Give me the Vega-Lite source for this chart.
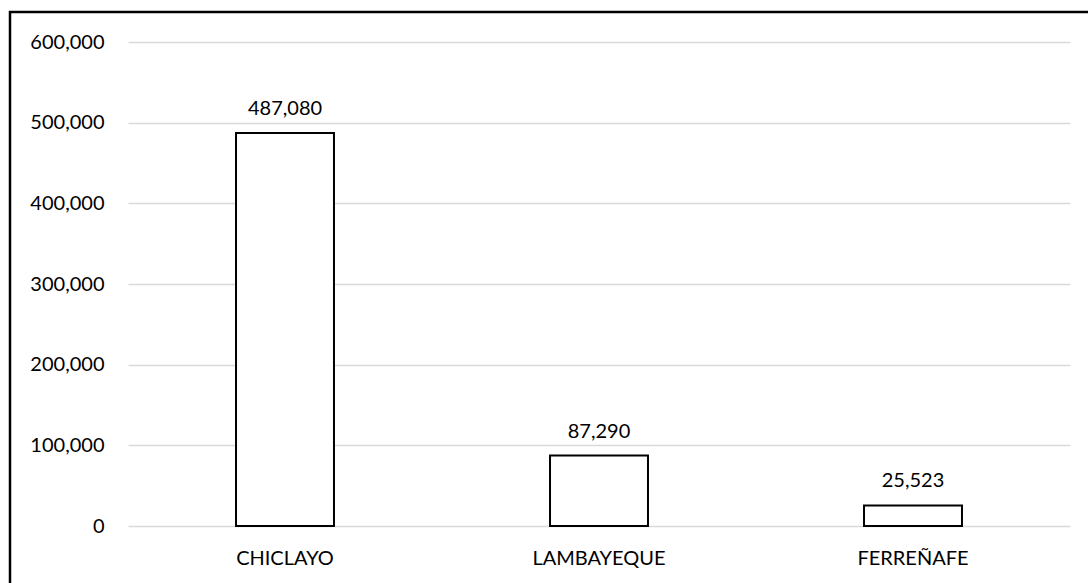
{
  "$schema": "https://vega.github.io/schema/vega-lite/v6.json",
  "width": 1082,
  "height": 574,
  "autosize": {"type": "none"},
  "padding": {"left": 10, "top": 12, "right": 0, "bottom": 0},
  "background": "white",
  "config": {"view": {"stroke": "#000", "strokeWidth": 2.5}, "font": "Lato"},
  "data": {"values": [
    {"provincia": "CHICLAYO", "poblacion": 487080},
    {"provincia": "LAMBAYEQUE", "poblacion": 87290},
    {"provincia": "FERREÑAFE", "poblacion": 25523}
  ]},
  "encoding": {
    "x": {
      "field": "provincia", "type": "nominal", "sort": null,
      "scale": {"range": [118, 1060], "paddingInner": 0.688, "paddingOuter": 0.344},
      "axis": {"title": null, "orient": "bottom", "offset": -60, "domain": false, "ticks": false, "tickSize": 0, "labelPadding": 22, "labelFontSize": 20, "labelAngle": 0, "labelColor": "#000", "grid": false}
    },
    "y": {
      "field": "poblacion", "type": "quantitative",
      "scale": {"domain": [0, 600000], "range": [514, 30], "nice": false},
      "axis": {"title": null, "values": [0, 100000, 200000, 300000, 400000, 500000, 600000], "format": ",d", "offset": -118, "domain": false, "ticks": false, "tickSize": 0, "labelPadding": 24, "labelFontSize": 20, "labelColor": "#000", "grid": true, "gridColor": "#d9d9d9", "gridWidth": 1.5}
    }
  },
  "layer": [
    {"mark": {"type": "bar", "fill": "white", "stroke": "black", "strokeWidth": 2}},
    {"mark": {"type": "text", "baseline": "alphabetic", "dy": -18, "fontSize": 20, "color": "#000"},
     "encoding": {"text": {"field": "poblacion", "type": "quantitative", "format": ","}}}
  ]
}
